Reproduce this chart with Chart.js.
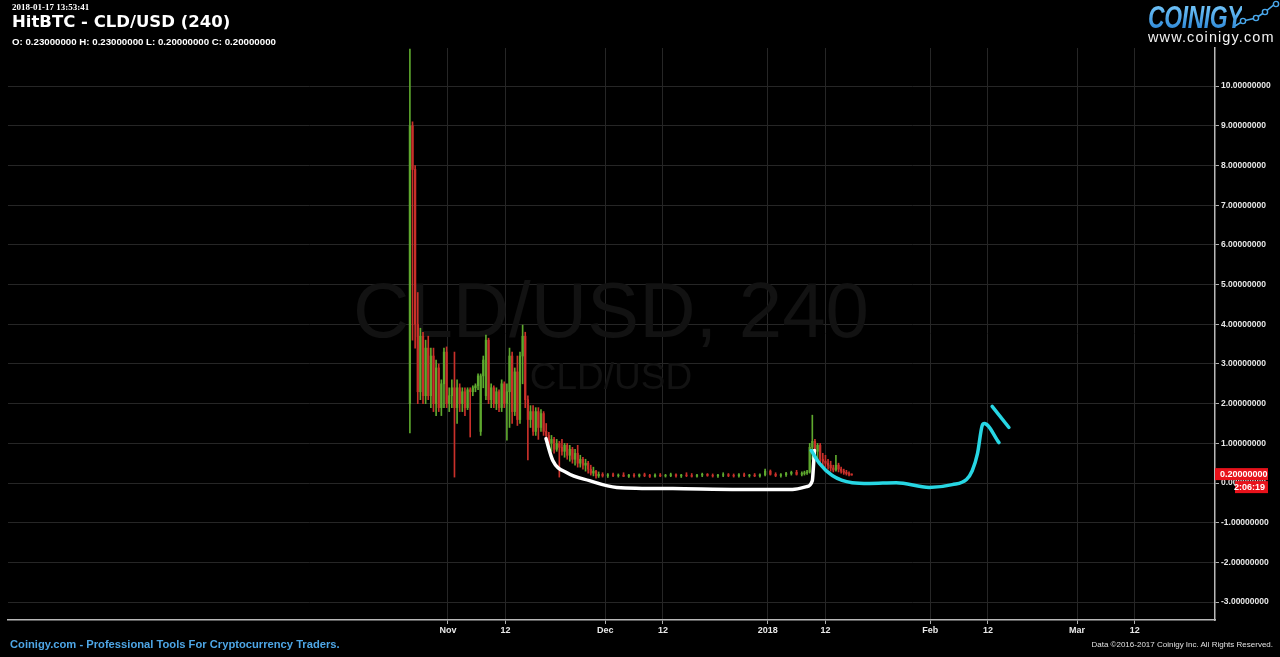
<!DOCTYPE html>
<html>
<head>
<meta charset="utf-8">
<script src="https://cdn.jsdelivr.net/npm/chart.js@4.4.1/dist/chart.umd.min.js"></script>
<style>
  html, body { margin: 0; padding: 0; background: #000; }
  #wrap { position: relative; width: 1280px; height: 657px; background: #000; overflow: hidden; }
  #wrap canvas { position: absolute; left: 0; top: 0; }
  .txt { position: absolute; white-space: nowrap; color: #fff; }
  #stamp { left: 12px; top: 2px; font: bold 9px "Liberation Serif", serif; }
  #title { left: 12px; top: 12px; font: bold 16.5px "DejaVu Sans", sans-serif; }
  #ohlc { left: 12px; top: 36px; font: bold 9.7px "Liberation Sans", Arial, sans-serif; }
  #logo { left: 1148px; top: 0px; font: italic bold 31px "Liberation Sans", sans-serif; transform-origin: 0 0; transform: scaleX(0.74);
          background: linear-gradient(#7fd0ff, #1d7ad0); -webkit-background-clip: text; color: transparent; letter-spacing: -0.5px; }
  #site { left: 1148px; top: 29px; font: 14.5px "Liberation Sans", Arial, sans-serif; letter-spacing: 1.1px; color: #f2f2f2; }
  #foot { left: 10px; top: 638px; font: bold 11.2px "Liberation Sans", Arial, sans-serif; color: #4ea6e6; }
  #copy { right: 7px; top: 640px; font: 8px "Liberation Sans", Arial, sans-serif; color: #e0e0e0; }
</style>
</head>
<body>
<div id="wrap">
  <canvas id="chart" width="1280" height="657"></canvas>
  <div class="txt" id="stamp">2018-01-17 13:53:41</div>
  <div class="txt" id="title">HitBTC - CLD/USD (240)</div>
  <div class="txt" id="ohlc">O: 0.23000000 H: 0.23000000 L: 0.20000000 C: 0.20000000</div>
  <div class="txt" id="logo">COINIGY</div>
  <svg style="position:absolute;left:1232px;top:0" width="48" height="30">
    <polyline points="3,26 11,21 24,18 33,12 44,3" fill="none" stroke="#4aa8ec" stroke-width="1.6"/>
    <circle cx="11" cy="21" r="2.6" fill="#000" stroke="#4aa8ec" stroke-width="1.4"/>
    <circle cx="24" cy="18" r="2.6" fill="#000" stroke="#4aa8ec" stroke-width="1.4"/>
    <circle cx="33" cy="12" r="2.6" fill="#000" stroke="#4aa8ec" stroke-width="1.4"/>
    <circle cx="44" cy="4" r="2.6" fill="#000" stroke="#4aa8ec" stroke-width="1.4"/>
  </svg>
  <div class="txt" id="site">www.coinigy.com</div>
  <div class="txt" id="foot">Coinigy.com - Professional Tools For Cryptocurrency Traders.</div>
  <div class="txt" id="copy">Data ©2016-2017 Coinigy Inc. All Rights Reserved.</div>
</div>
<script>
// time axis is in days since 2017-11-01
const xTickDays = [0, 11, 30, 41, 61, 72, 92, 103, 120, 131];
const xTickLabels = ["Nov", "12", "Dec", "12", "2018", "12", "Feb", "12", "Mar", "12"];
const yTicks = [-3, -2, -1, 0, 1, 2, 3, 4, 5, 6, 7, 8, 9, 10];

// 4h-ish candles
const candleDays = [
  -7.25, -6.75, -6.25, -5.75, -5.25, -4.75, -4.25, -3.75, -3.25, -2.75, -2.25, -1.75, -1.25, -0.75, -0.25,
  0.25, 0.75, 1.25, 1.75, 2.25, 2.75, 3.25, 3.75, 4.25, 4.75, 5.25, 5.75, 6.25, 6.75, 7.25, 7.75,
  8.25, 8.75, 9.25, 9.75, 10.25, 10.75, 11.25, 11.75, 12.25, 12.75, 13.25, 13.75, 14.25, 14.75,
  15.25, 15.75, 16.25, 16.75, 17.25, 17.75, 18.25, 18.75, 19.25, 19.75, 20.25, 20.75, 21.25, 21.75,
  22.25, 22.75, 23.25, 23.75, 24.25, 24.75, 25.25, 25.75, 26.25, 26.75, 27.25, 27.75, 28.25, 28.75,
  29.5, 30.5, 31.5, 32.5, 33.5, 34.5, 35.5, 36.5, 37.5, 38.5, 39.5, 40.5, 41.5, 42.5, 43.5, 44.5,
  45.5, 46.5, 47.5, 48.5, 49.5, 50.5, 51.5, 52.5, 53.5, 54.5, 55.5, 56.5, 57.5, 58.5, 59.5, 60.5,
  61.5, 62.5, 63.5, 64.5, 65.5, 66.5, 67.5,
  68, 68.5, 69, 69.5, 70, 70.5, 71, 71.5, 72, 72.5, 73, 73.5, 74, 74.5, 75, 75.5, 76, 76.5, 77
];
const opens = [
  2.00, 9.00, 7.90, 4.00, 2.30, 3.70, 2.20, 3.40, 2.20, 3.20, 2.00, 2.90, 1.90, 2.50, 3.30,
  2.00, 2.20, 2.40, 1.90, 2.40, 2.00, 2.30, 1.90, 2.35, 2.30, 2.40, 2.45, 1.30, 2.70, 2.20, 3.60,
  2.10, 2.40, 2.00, 2.30, 1.90, 2.50, 2.00, 2.30, 3.20, 1.80, 2.80, 1.60, 3.20, 3.70,
  2.10, 1.60, 1.80, 1.30, 1.80, 1.40, 1.75, 1.30, 1.20, 1.00, 1.10, 0.85, 1.00, 0.90,
  0.80, 0.95, 0.70, 0.85, 0.60, 0.75, 0.50, 0.60, 0.45, 0.50, 0.35, 0.25, 0.30, 0.18,
  0.22, 0.18, 0.21, 0.19, 0.20, 0.17, 0.20, 0.18, 0.21, 0.19, 0.17, 0.20, 0.18, 0.19, 0.21, 0.18,
  0.20, 0.19, 0.17, 0.20, 0.22, 0.19, 0.18, 0.20, 0.21, 0.19, 0.18, 0.21, 0.19, 0.20, 0.18, 0.21,
  0.30, 0.22, 0.19, 0.21, 0.24, 0.27, 0.22,
  0.24, 0.26, 0.28, 0.90, 1.05, 0.80, 0.95, 0.60, 0.55, 0.50, 0.45, 0.38, 0.33, 0.45, 0.35, 0.30, 0.27, 0.24, 0.23
];
const highs = [
  10.93, 9.10, 8.00, 4.80, 3.90, 3.80, 3.60, 3.70, 3.40, 3.40, 3.10, 3.00, 2.60, 3.40, 3.43,
  2.40, 2.60, 3.30, 2.60, 2.50, 2.40, 2.40, 2.40, 2.40, 2.45, 2.50, 2.75, 2.75, 3.20, 3.73, 3.65,
  2.50, 2.45, 2.40, 2.35, 2.60, 2.55, 2.50, 3.40, 3.30, 2.90, 3.20, 3.30, 3.98, 3.80,
  2.20, 1.95, 1.95, 1.90, 1.90, 1.85, 1.80, 1.50, 1.28, 1.20, 1.15, 1.10, 1.05, 1.10,
  1.00, 1.00, 0.95, 0.90, 0.85, 0.95, 0.70, 0.65, 0.60, 0.55, 0.45, 0.40, 0.32, 0.28,
  0.26, 0.24, 0.25, 0.23, 0.26, 0.22, 0.24, 0.23, 0.25, 0.22, 0.23, 0.24, 0.22, 0.25, 0.23, 0.22,
  0.26, 0.24, 0.22, 0.25, 0.24, 0.23, 0.22, 0.26, 0.24, 0.23, 0.24, 0.25, 0.22, 0.24, 0.23, 0.35,
  0.33, 0.26, 0.24, 0.27, 0.30, 0.32, 0.28,
  0.30, 0.32, 1.00, 1.71, 1.10, 1.00, 1.00, 0.75, 0.70, 0.60, 0.55, 0.45, 0.70, 0.50, 0.40, 0.35, 0.32, 0.28, 0.23
];
const lows = [
  1.26, 3.60, 3.40, 2.00, 2.10, 2.00, 2.00, 2.10, 1.90, 1.80, 1.70, 1.80, 1.70, 1.90, 1.90,
  1.80, 1.90, 0.15, 1.50, 1.80, 1.80, 1.70, 1.85, 1.16, 2.20, 2.30, 2.35, 1.20, 2.40, 2.10, 2.00,
  1.90, 1.90, 1.85, 1.80, 1.80, 1.90, 1.08, 1.40, 1.50, 1.70, 1.45, 1.50, 2.50, 1.90,
  0.58, 1.40, 1.20, 1.20, 1.10, 1.30, 1.20, 1.10, 0.90, 0.80, 0.75, 0.80, 0.15, 0.70,
  0.65, 0.60, 0.55, 0.50, 0.45, 0.40, 0.40, 0.35, 0.30, 0.25, 0.20, 0.18, 0.12, 0.14,
  0.15, 0.14, 0.16, 0.15, 0.16, 0.14, 0.15, 0.15, 0.16, 0.14, 0.15, 0.16, 0.15, 0.16, 0.15, 0.14,
  0.16, 0.15, 0.15, 0.16, 0.17, 0.15, 0.14, 0.16, 0.16, 0.15, 0.15, 0.16, 0.15, 0.16, 0.15, 0.18,
  0.20, 0.16, 0.15, 0.17, 0.20, 0.20, 0.18,
  0.20, 0.22, 0.25, 0.60, 0.70, 0.60, 0.50, 0.45, 0.40, 0.35, 0.30, 0.28, 0.30, 0.28, 0.25, 0.22, 0.20, 0.18, 0.20
];
const closes = [
  9.00, 7.90, 4.00, 2.30, 3.70, 2.20, 3.40, 2.20, 3.20, 2.00, 2.90, 1.90, 2.50, 3.30, 2.00,
  2.20, 2.40, 1.90, 2.40, 2.00, 2.30, 1.90, 2.35, 2.30, 2.40, 2.45, 2.70, 2.70, 3.10, 3.60, 2.10,
  2.40, 2.00, 2.30, 1.90, 2.50, 2.00, 2.30, 3.20, 1.80, 2.80, 1.60, 3.20, 3.70, 2.10,
  1.60, 1.80, 1.30, 1.80, 1.40, 1.75, 1.30, 1.20, 1.00, 1.10, 0.85, 1.00, 0.90, 0.80,
  0.95, 0.70, 0.85, 0.60, 0.75, 0.50, 0.60, 0.45, 0.50, 0.35, 0.25, 0.30, 0.18, 0.22,
  0.18, 0.21, 0.19, 0.20, 0.17, 0.20, 0.18, 0.21, 0.19, 0.17, 0.20, 0.18, 0.19, 0.21, 0.18, 0.20,
  0.19, 0.17, 0.20, 0.22, 0.19, 0.18, 0.20, 0.21, 0.19, 0.18, 0.21, 0.19, 0.20, 0.18, 0.21, 0.30,
  0.22, 0.19, 0.21, 0.24, 0.27, 0.22, 0.24,
  0.26, 0.28, 0.90, 1.05, 0.80, 0.95, 0.60, 0.55, 0.50, 0.45, 0.38, 0.33, 0.45, 0.35, 0.30, 0.27, 0.24, 0.22, 0.20
];

// hand-drawn marks on the screenshot, [day, value]
const whiteStroke = [
  [18.7, 1.12], [20.0, 0.57], [22.7, 0.26], [27.0, 0.06], [32.2, -0.11], [42.9, -0.14],
  [55.6, -0.16], [65.7, -0.16], [68.4, -0.09], [69.5, 0.06], [69.7, 0.39], [69.9, 0.82]
];
const cyanStroke = [
  [69.3, 0.82], [70.9, 0.49], [73.3, 0.19], [77.1, 0.01], [80.4, -0.01], [85.5, 0.01],
  [91.8, -0.11], [96.2, -0.04], [98.9, 0.09], [100.0, 0.31], [101.0, 0.74], [101.9, 1.45],
  [102.3, 1.50], [105.1, 1.02]
];
const cyanTick = [[103.8, 1.93], [107.0, 1.40]];

const lastPrice = 0.2;
const countdown = "2:06:19";

const UP = "#5ea82e", DOWN = "#c9302a";
const candleColors = opens.map((o, i) => (closes[i] >= o ? UP : DOWN));
const wickData = candleDays.map((t, i) => ({ x: t, y: [lows[i], highs[i]] }));
const bodyData = candleDays.map((t, i) => ({ x: t, y: [Math.min(opens[i], closes[i]), Math.max(opens[i], closes[i])] }));
const toXY = (arr) => arr.map((p) => ({ x: p[0], y: p[1] }));

const watermark = {
  id: "watermark",
  beforeDatasetsDraw(chart) {
    const { ctx } = chart;
    ctx.save();
    ctx.fillStyle = "#121212";
    ctx.textAlign = "center";
    ctx.textBaseline = "alphabetic";
    ctx.font = "78px 'Liberation Sans', Arial, sans-serif";
    ctx.fillText("CLD/USD, 240", 611, 337);
    ctx.font = "37px 'Liberation Sans', Arial, sans-serif";
    ctx.fillText("CLD/USD", 611, 389);
    ctx.restore();
  }
};

const priceTag = {
  id: "priceTag",
  afterDraw(chart) {
    const { ctx } = chart;
    const y = chart.scales.y.getPixelForValue(lastPrice);
    const x0 = chart.chartArea.right;
    ctx.save();
    ctx.fillStyle = "#e8121b";
    ctx.fillRect(x0, y - 7, 53, 12);
    ctx.fillRect(x0 + 20, y + 6, 33, 12);
    ctx.fillStyle = "#fff";
    ctx.font = "bold 9px 'Liberation Sans', Arial, sans-serif";
    ctx.textBaseline = "middle";
    ctx.textAlign = "left";
    ctx.fillText(lastPrice.toFixed(8), x0 + 5, y - 1);
    ctx.textAlign = "right";
    ctx.fillText(countdown, x0 + 50, y + 12);
    ctx.restore();
  }
};

new Chart(document.getElementById("chart"), {
  type: "bar",
  data: {
    datasets: [
      { type: "line", data: toXY(cyanTick), borderColor: "#27d6e3", borderWidth: 3.5, pointRadius: 0, borderCapStyle: "round" },
      { type: "line", data: toXY(cyanStroke), borderColor: "#27d6e3", borderWidth: 3.5, pointRadius: 0, cubicInterpolationMode: "monotone", borderCapStyle: "round" },
      { type: "line", data: toXY(whiteStroke), borderColor: "#ffffff", borderWidth: 3.5, pointRadius: 0, cubicInterpolationMode: "monotone", borderCapStyle: "round" },
      { data: bodyData, backgroundColor: candleColors, barThickness: 1.6, grouped: false },
      { data: wickData, backgroundColor: candleColors, barThickness: 1, grouped: false }
    ]
  },
  options: {
    responsive: false,
    animation: false,
    layout: { padding: { left: 8, top: 48, right: 0, bottom: 0 } },
    plugins: { legend: { display: false }, tooltip: { enabled: false } },
    scales: {
      x: {
        type: "linear",
        min: -83.9,
        max: 146.3,
        offset: false,
        afterBuildTicks: (s) => { s.ticks = xTickDays.map((v) => ({ value: v })); },
        afterFit: (s) => { s.height = 37; },
        grid: { color: "#262626", offset: false, tickColor: "#b0b0b0", tickLength: 4 },
        border: { color: "#b8b8b8", width: 1.5 },
        ticks: {
          color: "#e8e8e8",
          font: { family: "'Liberation Sans', Arial, sans-serif", size: 9, weight: "bold" },
          padding: 1,
          maxRotation: 0,
          autoSkip: false,
          callback: (v) => xTickLabels[xTickDays.indexOf(v)]
        }
      },
      y: {
        position: "right",
        min: -3.45,
        max: 10.96,
        afterBuildTicks: (s) => { s.ticks = yTicks.map((v) => ({ value: v })); },
        afterFit: (s) => { s.width = 65; },
        grid: { color: "#262626", tickColor: "#b0b0b0", tickLength: 4 },
        border: { color: "#b8b8b8", width: 1.5 },
        ticks: {
          color: "#e8e8e8",
          font: { family: "'Liberation Sans', Arial, sans-serif", size: 8.5, weight: "bold" },
          padding: 2,
          callback: (v) => v.toFixed(8)
        }
      }
    }
  },
  plugins: [watermark, priceTag]
});
</script>
</body>
</html>
